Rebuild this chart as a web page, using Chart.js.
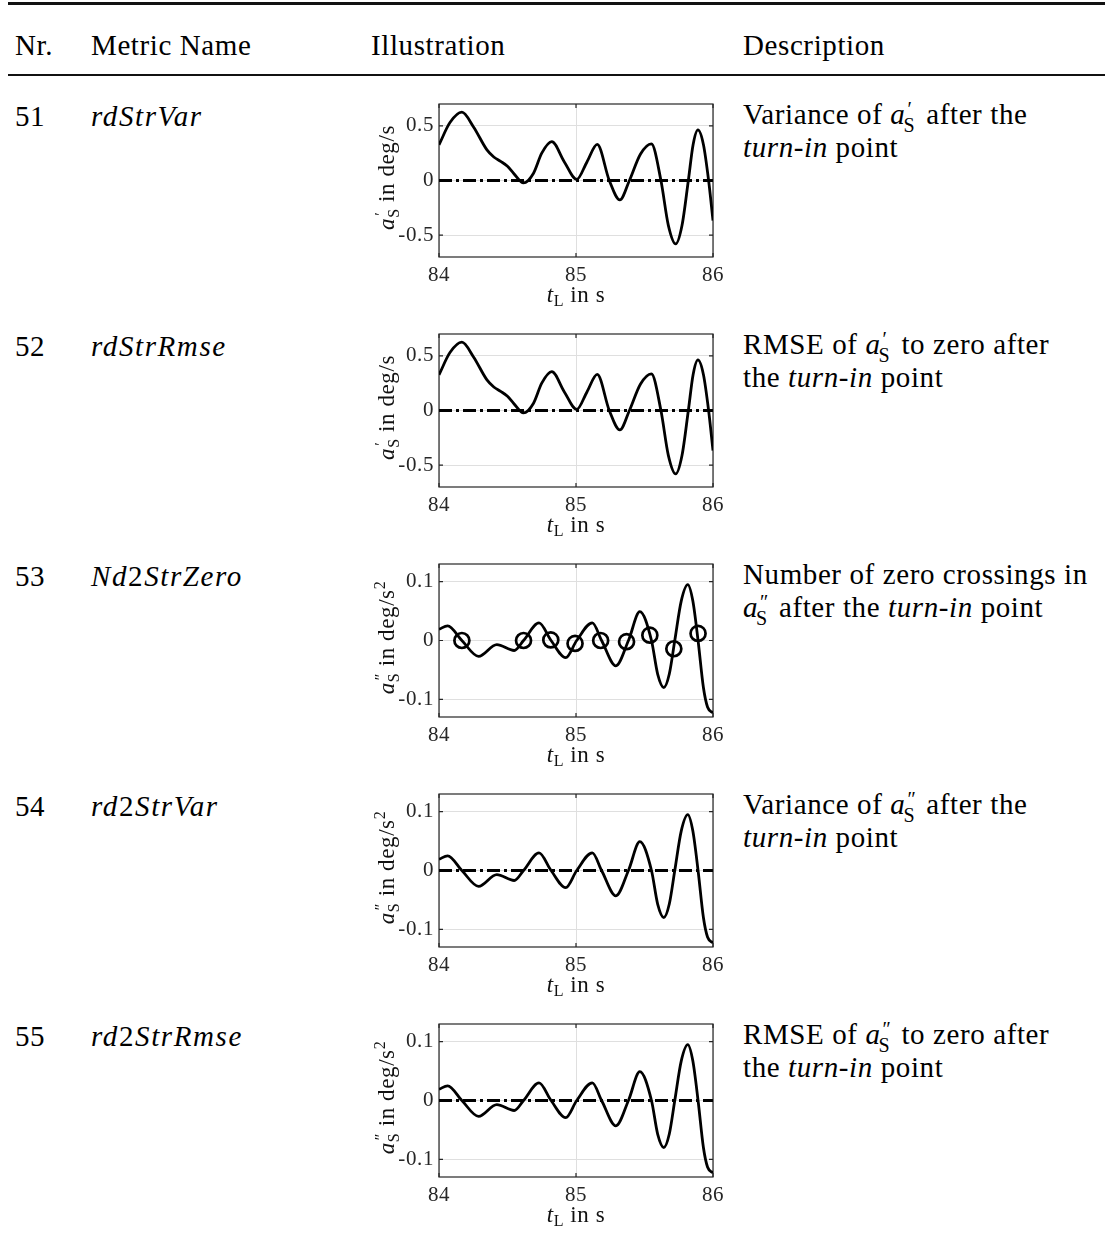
<!DOCTYPE html>
<html>
<head>
<meta charset="utf-8">
<script src="https://cdn.jsdelivr.net/npm/chart.js@4.4.1/dist/chart.umd.min.js"></script>
<style>
  body { margin: 0; background: #fff; }
  #page {
    position: relative; width: 1105px; height: 1235px; overflow: hidden;
    font-family: "Liberation Serif", serif; font-size: 29px; color: #000;
    letter-spacing: 0.6px;
  }
  .rule { position: absolute; left: 8px; right: 0; background: #111; }
  .txt { position: absolute; line-height: 32.5px; white-space: nowrap; }
  .mi { font-style: italic; letter-spacing: 1.6px; }
  .up { font-style: normal; }
  .a { font-style: italic; }
  .sc { display: inline-block; position: relative; width: 11px; height: 1px; margin-right: 2px; }
  .sc .p { position: absolute; left: 2px; top: -24px; font-size: 20px; line-height: 20px; letter-spacing: 0; }
  .sc .s { position: absolute; left: -2px; top: -8px; font-size: 20px; line-height: 20px; letter-spacing: 0; }
  canvas { position: absolute; left: 360px; }
</style>
</head>
<body>
<div id="page">
  <div class="rule" style="top:2px;height:2.5px"></div>
  <div class="rule" style="top:74px;height:1.5px"></div>

  <div class="txt" style="left:15px;top:29px">Nr.</div>
  <div class="txt" style="left:91px;top:29px">Metric Name</div>
  <div class="txt" style="left:371px;top:29px">Illustration</div>
  <div class="txt" style="left:743px;top:29px">Description</div>

  <!-- 51 -->
  <div class="txt" style="left:15px;top:100px">51</div>
  <div class="txt" style="left:91px;top:100px"><span class="mi">rdStrVar</span></div>
  <div class="txt" style="left:743px;top:98px">Variance of <span class="a">a</span><span class="sc"><span class="p">′</span><span class="s">S</span></span> after the<br><i>turn-in</i> point</div>

  <!-- 52 -->
  <div class="txt" style="left:15px;top:330px">52</div>
  <div class="txt" style="left:91px;top:330px"><span class="mi">rdStrRmse</span></div>
  <div class="txt" style="left:743px;top:328px">RMSE of <span class="a">a</span><span class="sc"><span class="p">′</span><span class="s">S</span></span> to zero after<br>the <i>turn-in</i> point</div>

  <!-- 53 -->
  <div class="txt" style="left:15px;top:560px">53</div>
  <div class="txt" style="left:91px;top:560px"><span class="mi">Nd<span class="up">2</span>StrZero</span></div>
  <div class="txt" style="left:743px;top:558px">Number of zero crossings in<br><span class="a">a</span><span class="sc"><span class="p">″</span><span class="s">S</span></span> after the <i>turn-in</i> point</div>

  <!-- 54 -->
  <div class="txt" style="left:15px;top:790px">54</div>
  <div class="txt" style="left:91px;top:790px"><span class="mi">rd<span class="up">2</span>StrVar</span></div>
  <div class="txt" style="left:743px;top:788px">Variance of <span class="a">a</span><span class="sc"><span class="p">″</span><span class="s">S</span></span> after the<br><i>turn-in</i> point</div>

  <!-- 55 -->
  <div class="txt" style="left:15px;top:1020px">55</div>
  <div class="txt" style="left:91px;top:1020px"><span class="mi">rd<span class="up">2</span>StrRmse</span></div>
  <div class="txt" style="left:743px;top:1018px">RMSE of <span class="a">a</span><span class="sc"><span class="p">″</span><span class="s">S</span></span> to zero after<br>the <i>turn-in</i> point</div>

  <canvas id="c0" width="375" height="230" style="top:84px"></canvas>
  <canvas id="c1" width="375" height="230" style="top:314px"></canvas>
  <canvas id="c2" width="375" height="230" style="top:544px"></canvas>
  <canvas id="c3" width="375" height="230" style="top:774px"></canvas>
  <canvas id="c4" width="375" height="230" style="top:1004px"></canvas>
</div>

<script>
// --- DATA ---

const X_TICKS = [84, 85, 86];

// a'_S, steering rate in deg/s
const D1_T = [84.000, 84.080, 84.167, 84.252, 84.350, 84.400, 84.450, 84.500, 84.544, 84.617,
              84.690, 84.750, 84.823, 84.915, 85.005, 85.080, 85.155, 85.243, 85.320, 85.390,
              85.470, 85.550, 85.620, 85.674, 85.728, 85.774, 85.820, 85.855, 85.890, 85.930,
              85.968, 86.000];
const D1_V = [0.326, 0.53, 0.625, 0.49, 0.28, 0.215, 0.175, 0.13, 0.067, -0.022,
              0.067, 0.25, 0.355, 0.17, 0.01, 0.17, 0.33, 0.0, -0.178, 0.0,
              0.24, 0.335, 0.0, -0.41, -0.58, -0.41, 0.0, 0.33, 0.463, 0.33,
              0.0, -0.366];
const D1_TICKS = [-0.5, 0, 0.5];
const D1_RANGE = [-0.7, 0.7];

// a''_S, steering acceleration in deg/s^2
const D2_T = [84.000, 84.063, 84.167, 84.289, 84.422, 84.549, 84.617, 84.730, 84.818, 84.925,
              85.005, 85.119, 85.187, 85.291, 85.383, 85.466, 85.551, 85.596, 85.641, 85.681,
              85.721, 85.768, 85.816, 85.853, 85.891, 85.930, 85.960, 86.000];
const D2_V = [0.019, 0.025, 0.0, -0.027, -0.007, -0.017, 0.0, 0.030, 0.0, -0.029,
              0.0, 0.030, 0.0, -0.043, 0.0, 0.049, 0.0, -0.057, -0.080, -0.057,
              0.0, 0.067, 0.095, 0.067, 0.0, -0.080, -0.113, -0.123];
const D2_TICKS = [-0.1, 0, 0.1];
const D2_RANGE = [-0.13, 0.13];

// detected zero crossings of a''_S
const ZC_T = [84.167, 84.617, 84.816, 84.993, 85.180, 85.369, 85.539, 85.714, 85.891];
const ZC_V = [0.0, 0.0, 0.001, -0.005, 0.0, -0.002, 0.009, -0.014, 0.012];

const ZERO_T = [84, 86];
const ZERO_V = [0, 0];

// which illustration goes in which row
const ROW_KIND = ['d1', 'd1', 'd2zc', 'd2', 'd2'];

// --- DRAWING ---

const AXIS_COLOR = '#262626';
const GRID_COLOR = '#dfdfdf';
const IT = 'italic 23px "Liberation Serif"';
const RM = '23px "Liberation Serif"';
const SC = '16px "Liberation Serif"';

const TITLES = {
    x: [{ t: 't', f: IT }, { t: 'L', f: SC, dy: 4 }, { t: ' in s', f: RM }],
    d1: [{ t: 'a', f: IT }, { t: '′', f: SC, dy: -8, dx: 2, adv: 0 }, { t: 'S', f: SC, dy: 5 }, { t: ' in deg/s', f: RM }],
    d2: [{ t: 'a', f: IT }, { t: '″', f: SC, dy: -8, dx: 2, adv: 0 }, { t: 'S', f: SC, dy: 5 }, { t: ' in deg/s', f: RM }, { t: '2', f: SC, dy: -9 }]
};

const pts = (xs, ys) => xs.map((x, i) => ({ x: x, y: ys[i] }));

function drawRich(ctx, parts, x, y) {
    const widths = parts.map(p => { ctx.font = p.f; return ctx.measureText(p.t).width; });
    let total = 0;
    parts.forEach((p, i) => { if (p.adv !== 0) total += widths[i]; });
    let cx = x - total / 2;
    ctx.textAlign = 'left';
    ctx.textBaseline = 'alphabetic';
    parts.forEach((p, i) => {
        ctx.font = p.f;
        ctx.fillText(p.t, cx + (p.dx || 0), y + (p.dy || 0));
        if (p.adv !== 0) cx += widths[i];
    });
}

// box around the axes, inward tick marks and the rich axis titles
const frame = {
    id: 'frame',
    beforeDatasetsDraw(chart) {
        const { ctx, chartArea: a, scales: { x, y } } = chart;
        ctx.save();
        ctx.strokeStyle = AXIS_COLOR;
        ctx.lineWidth = 1.2;
        ctx.strokeRect(a.left, a.top, a.right - a.left, a.bottom - a.top);
        ctx.beginPath();
        x.ticks.forEach(t => {
            const px = x.getPixelForValue(t.value);
            ctx.moveTo(px, a.bottom); ctx.lineTo(px, a.bottom - 4);
            ctx.moveTo(px, a.top); ctx.lineTo(px, a.top + 4);
        });
        y.ticks.forEach(t => {
            const py = y.getPixelForValue(t.value);
            ctx.moveTo(a.left, py); ctx.lineTo(a.left + 4, py);
            ctx.moveTo(a.right, py); ctx.lineTo(a.right - 4, py);
        });
        ctx.stroke();
        ctx.restore();
    },
    afterDraw(chart) {
        const { ctx, chartArea: a } = chart;
        const kind = chart.options.plugins.frame.kind;
        ctx.save();
        ctx.fillStyle = '#111';
        drawRich(ctx, TITLES.x, (a.left + a.right) / 2, a.bottom + 45);
        ctx.translate(34, (a.top + a.bottom) / 2 - 3);
        ctx.rotate(-Math.PI / 2);
        drawRich(ctx, kind === 'd1' ? TITLES.d1 : TITLES.d2, 0, 0);
        ctx.restore();
    }
};

function makePlot(id, kind) {
    const isD1 = kind === 'd1';
    const yTicks = isD1 ? D1_TICKS : D2_TICKS;
    const yRange = isD1 ? D1_RANGE : D2_RANGE;

    const datasets = [{
        data: isD1 ? pts(D1_T, D1_V) : pts(D2_T, D2_V),
        borderColor: '#000',
        borderWidth: 2.8,
        pointRadius: 0,
        cubicInterpolationMode: 'monotone',
        order: 2
    }];

    if (kind === 'd2zc') {
        datasets.push({
            data: pts(ZC_T, ZC_V),
            showLine: false,
            pointStyle: 'circle',
            pointRadius: 7.5,
            pointBorderWidth: 2.7,
            pointBorderColor: '#000',
            pointBackgroundColor: 'rgba(0,0,0,0)',
            order: 0
        });
    } else {
        datasets.push({
            data: pts(ZERO_T, ZERO_V),
            borderColor: '#000',
            borderWidth: 2.8,
            borderDash: [13, 4, 3, 4],
            pointRadius: 0,
            order: 1
        });
    }

    const tickFont = { family: 'Liberation Serif', size: 21 };

    new Chart(document.getElementById(id), {
        type: 'line',
        data: { datasets: datasets },
        options: {
            responsive: false,
            animation: false,
            events: [],
            layout: { padding: { top: 20, right: 22, left: 0, bottom: 0 } },
            plugins: {
                legend: { display: false },
                tooltip: { enabled: false },
                frame: { kind: isD1 ? 'd1' : 'd2' }
            },
            scales: {
                x: {
                    type: 'linear',
                    min: 84,
                    max: 86,
                    afterBuildTicks: s => { s.ticks = X_TICKS.map(v => ({ value: v })); },
                    afterFit: s => { s.height = 57; },
                    grid: { color: GRID_COLOR, lineWidth: 1, drawTicks: false },
                    border: { display: false },
                    ticks: { font: tickFont, color: AXIS_COLOR, padding: 6, maxRotation: 0, callback: v => String(v) }
                },
                y: {
                    type: 'linear',
                    min: yRange[0],
                    max: yRange[1],
                    afterBuildTicks: s => { s.ticks = yTicks.map(v => ({ value: v })); },
                    afterFit: s => { s.width = 79; },
                    grid: { color: GRID_COLOR, lineWidth: 1, drawTicks: false },
                    border: { display: false },
                    ticks: { font: tickFont, color: AXIS_COLOR, padding: 5, callback: v => String(v) }
                }
            }
        },
        plugins: [frame]
    });
}

ROW_KIND.forEach((kind, i) => makePlot('c' + i, kind));
</script>
</body>
</html>
